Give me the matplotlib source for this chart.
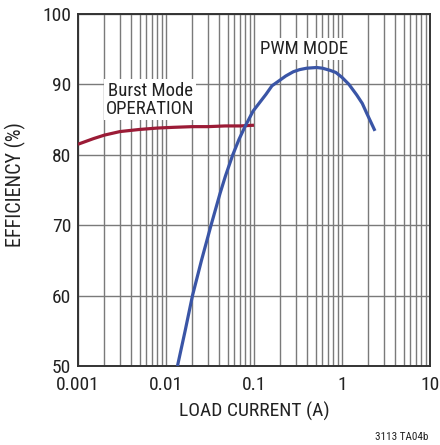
import matplotlib
matplotlib.use("Agg")
import os
import matplotlib.pyplot as plt
from matplotlib import font_manager as fm

# Burst Mode operation efficiency
burst_current = [0.001, 0.0015, 0.002, 0.003, 0.005, 0.008, 0.012, 0.02, 0.03, 0.047, 0.07, 0.1]
burst_eff = [81.5, 82.3, 82.8, 83.3, 83.6, 83.8, 83.9, 84.0, 84.0, 84.1, 84.1, 84.2]

# PWM mode efficiency
pwm_current = [0.0135, 0.0165, 0.0200, 0.0253, 0.0325, 0.0411, 0.0474, 0.0574, 0.0676, 0.079,
               0.0975, 0.137, 0.16, 0.197, 0.23, 0.28, 0.33, 0.397, 0.515, 0.6, 0.73, 0.85,
               1.0, 1.2, 1.47, 1.7, 1.91, 2.37]
pwm_eff = [50.0, 55.0, 60.0, 65.0, 70.0, 74.5, 77.0, 80.0, 82.2, 84.0,
           86.2, 88.6, 89.8, 90.6, 91.2, 91.8, 92.1, 92.3, 92.4, 92.3, 92.0, 91.7,
           91.0, 90.0, 88.5, 87.3, 85.9, 83.4]

x_ticks = [0.001, 0.01, 0.1, 1, 10]
x_tick_labels = ["0.001", "0.01", "0.1", "1", "10"]
y_ticks = [50, 60, 70, 80, 90, 100]


def pick_narrow_font():
    prefs = ["liberationsansnarrow-regular", "robotocondensed-regular", "opensans_condensed-regular",
             "opensanscondensed-regular", "notosans-condensed", "notosanscondensed-regular",
             "dejavusanscondensed."]
    entries = fm.fontManager.ttflist
    for p in prefs:
        for e in entries:
            if p in os.path.basename(e.fname).lower():
                return e.name, e.stretch
    return "Liberation Sans", "normal"


fam, stretch = pick_narrow_font()
plt.rcParams["font.family"] = [fam, "DejaVu Sans"]
plt.rcParams["font.stretch"] = stretch

fig = plt.figure(figsize=(4.4, 4.45), dpi=100)
ax = fig.add_axes([78 / 440, 1 - 366 / 445, 352 / 440, 352 / 445])

ax.set_xscale("log")
ax.set_xlim(0.001, 10)
ax.set_ylim(50, 100)

grid_color = "#7a7a7a"
ax.grid(True, which="both", axis="x", color=grid_color, linewidth=1.0)
ax.grid(True, which="major", axis="y", color=grid_color, linewidth=1.0)
ax.set_axisbelow(True)

ax.plot(burst_current, burst_eff, color="#9b1b36", linewidth=2.3, solid_capstyle="butt", zorder=3)
ax.plot(pwm_current, pwm_eff, color="#3a55a6", linewidth=2.3, solid_capstyle="butt",
        solid_joinstyle="round", zorder=3)

ax.set_xticks(x_ticks)
ax.set_xticklabels(x_tick_labels)
ax.set_yticks(y_ticks)
ax.tick_params(axis="both", which="both", length=0, labelsize=14, colors="#222222", pad=5)
ax.tick_params(axis="x", pad=7)

for s in ax.spines.values():
    s.set_color("#333333")
    s.set_linewidth(1.4)

ax.set_xlabel("LOAD CURRENT (A)", fontsize=14, color="#222222", labelpad=6)
ax.set_ylabel("EFFICIENCY (%)", fontsize=14.5, color="#222222")
ax.yaxis.set_label_coords(-0.148, 0.515)

box = dict(facecolor="white", edgecolor="none", pad=1.5)
ax.text(0.00658, 87.8, "Burst Mode\nOPERATION", fontsize=13.5, ha="center", va="center",
        color="#222222", linespacing=1.05, bbox=box, zorder=4)
ax.text(0.37, 95.0, "PWM MODE", fontsize=13.5, ha="center", va="center",
        color="#222222", bbox=box, zorder=4)

fig.text(428 / 440, 1 - 437 / 445, "3113 TA04b", fontsize=8, ha="right", va="center", color="#222222")

fig.savefig("out.png", dpi=100)
